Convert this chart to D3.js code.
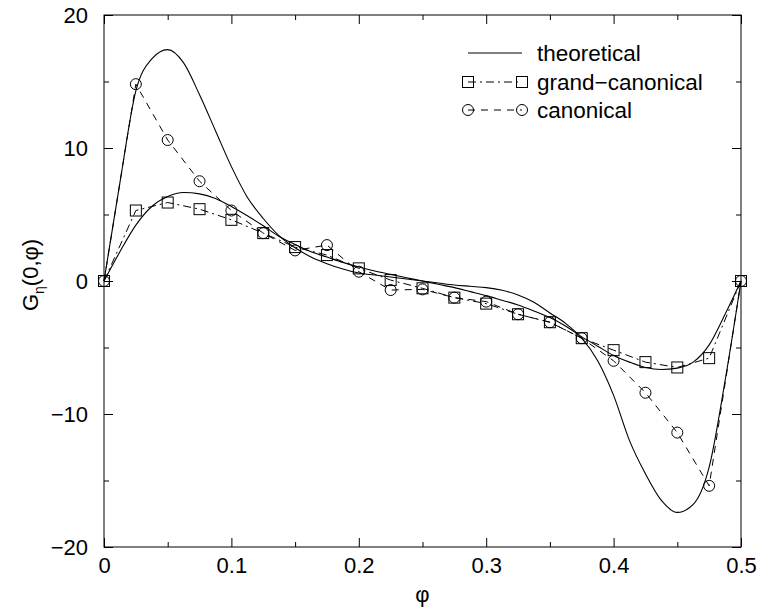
<!DOCTYPE html>
<html>
<head>
<meta charset="utf-8">
<script src="https://cdn.jsdelivr.net/npm/d3@7"></script>
<style>
  html, body { margin: 0; padding: 0; background: #fff; }
  text { font-family: "Liberation Sans", Arial, Helvetica, sans-serif; fill: #000; }
</style>
</head>
<body>
<svg id="chart" width="758" height="611"></svg>
<script>
// ---- data ----
const phiPts = [0, 0.025, 0.05, 0.075, 0.1, 0.125, 0.15, 0.175, 0.2, 0.225, 0.25,
                0.275, 0.3, 0.325, 0.35, 0.375, 0.4, 0.425, 0.45, 0.475, 0.5];
const grandCanonical = [0, 5.3, 5.9, 5.4, 4.6, 3.6, 2.55, 1.95, 0.95, 0.07, -0.55,
                        -1.25, -1.7, -2.5, -3.1, -4.3, -5.2, -6.1, -6.5, -5.8, 0];
const canonical = [0, 14.8, 10.6, 7.5, 5.3, 3.6, 2.3, 2.7, 0.7, -0.68, -0.63,
                   -1.25, -1.55, -2.5, -3.1, -4.3, -6.0, -8.4, -11.4, -15.4, 0];

const phiFine = [0, 0.0125, 0.025, 0.0375, 0.05, 0.0625, 0.075, 0.0875, 0.1, 0.1125,
                 0.125, 0.1375, 0.15, 0.1625, 0.175, 0.1875, 0.2, 0.2125, 0.225, 0.2375,
                 0.25, 0.2625, 0.275, 0.2875, 0.3, 0.3125, 0.325, 0.3375, 0.35, 0.3625,
                 0.375, 0.3875, 0.4, 0.4125, 0.425, 0.4375, 0.45, 0.4625, 0.475, 0.4875, 0.5];
const theoryLarge = [0, 7.4, 14.3, 16.7, 17.4, 16.4, 14.0, 11.3, 8.6, 6.3,
                     4.7, 3.4, 2.5, 1.8, 1.3, 0.9, 0.6, 0.45, 0.3, 0.15,
                     0, -0.15, -0.3, -0.4, -0.5, -0.7, -1.05, -1.6, -2.4, -3.2,
                     -4.3, -6.0, -8.6, -12.0, -14.5, -16.5, -17.4, -16.8, -14.0, -7.5, 0];
const theorySmall = [0, 2.2, 4.2, 5.6, 6.35, 6.65, 6.55, 6.2, 5.6, 4.9,
                     4.15, 3.35, 2.75, 2.2, 1.8, 1.4, 1.05, 0.75, 0.5, 0.25,
                     0, -0.25, -0.5, -0.8, -1.1, -1.45, -1.8, -2.25, -2.75, -3.4,
                     -4.2, -4.9, -5.6, -6.1, -6.5, -6.65, -6.55, -6.1, -4.8, -2.5, 0];

const xMajor = [0, 0.1, 0.2, 0.3, 0.4, 0.5];
const xMinor = [0.05, 0.15, 0.25, 0.35, 0.45];
const yMajor = [-20, -10, 0, 10, 20];
const yMinor = [-15, -5, 5, 15];
const legendLabels = ["theoretical", "grand\u2212canonical", "canonical"];

// ---- layout ----
const svg = d3.select("#chart");
const L = 104, R = 741, T = 15, B = 547;
const FS = 22;
const x = d3.scaleLinear().domain([0, 0.5]).range([L, R]);
const y = d3.scaleLinear().domain([-20, 20]).range([B, T]);

const fmtX = d => d === 0 ? "0" : d3.format(".1f")(d);
const fmtY = d => d < 0 ? "\u2212" + Math.abs(d) : String(d);

function axisGroup(axisFn, transform) {
  return svg.append("g").attr("transform", transform).call(axisFn)
    .call(g => g.select(".domain").remove())
    .call(g => g.selectAll("line").attr("stroke", "#000").attr("stroke-width", 1));
}
// bottom
axisGroup(d3.axisBottom(x).tickValues(xMajor).tickSize(-9).tickFormat(fmtX),
  `translate(0,${B})`)
  .selectAll("text").attr("font-size", FS).attr("dy", "0.71em").attr("y", 10);
axisGroup(d3.axisBottom(x).tickValues(xMinor).tickSize(-5).tickFormat(""), `translate(0,${B})`);
// top
axisGroup(d3.axisTop(x).tickValues(xMajor).tickSize(-9).tickFormat(""), `translate(0,${T})`);
axisGroup(d3.axisTop(x).tickValues(xMinor).tickSize(-5).tickFormat(""), `translate(0,${T})`);
// left
axisGroup(d3.axisLeft(y).tickValues(yMajor).tickSize(-9).tickPadding(16).tickFormat(fmtY),
  `translate(${L},0)`)
  .selectAll("text").attr("font-size", FS);
axisGroup(d3.axisLeft(y).tickValues(yMinor).tickSize(-5).tickFormat(""), `translate(${L},0)`);
// right
axisGroup(d3.axisRight(y).tickValues(yMajor).tickSize(-9).tickFormat(""), `translate(${R},0)`);
axisGroup(d3.axisRight(y).tickValues(yMinor).tickSize(-5).tickFormat(""), `translate(${R},0)`);

// frame
svg.append("rect").attr("x", L).attr("y", T).attr("width", R - L).attr("height", B - T)
  .attr("fill", "none").attr("stroke", "#000").attr("stroke-width", 1);

// axis titles
svg.append("text").attr("x", (L + R) / 2).attr("y", 602).attr("text-anchor", "middle")
  .attr("font-size", FS).text("\u03c6");
const yt = svg.append("text").attr("transform", "translate(38,275) rotate(-90)")
  .attr("text-anchor", "middle").attr("font-size", FS);
yt.append("tspan").text("G");
yt.append("tspan").attr("font-size", 14).attr("dy", 6).text("\u03b7");
yt.append("tspan").attr("dy", -6).text("(0,\u03c6)");

// ---- marks ----
const plot = svg.append("g");
const smooth = d3.line().x((d, i) => x(phiFine[i])).y(d => y(d)).curve(d3.curveMonotoneX);
[theoryLarge, theorySmall].forEach(arr => {
  plot.append("path").attr("d", smooth(arr)).attr("fill", "none")
    .attr("stroke", "#000").attr("stroke-width", 1.1);
});

const straight = d3.line().x((d, i) => x(phiPts[i])).y(d => y(d));
plot.append("path").attr("d", straight(grandCanonical)).attr("fill", "none")
  .attr("stroke", "#000").attr("stroke-width", 1).attr("stroke-dasharray", "8,4,2,4");
plot.append("path").attr("d", straight(canonical)).attr("fill", "none")
  .attr("stroke", "#000").attr("stroke-width", 1).attr("stroke-dasharray", "7,6");

const S = 11;
plot.selectAll("rect.gc").data(grandCanonical).join("rect").attr("class", "gc")
  .attr("x", (d, i) => x(phiPts[i]) - S / 2).attr("y", d => y(d) - S / 2)
  .attr("width", S).attr("height", S).attr("fill", "none").attr("stroke", "#000");
plot.selectAll("circle.cn").data(canonical).join("circle").attr("class", "cn")
  .attr("cx", (d, i) => x(phiPts[i])).attr("cy", d => y(d)).attr("r", 5.5)
  .attr("fill", "none").attr("stroke", "#000");

// ---- legend ----
const lx0 = 468, lx1 = 522, ltx = 537, ly = [53, 82, 110];
const lg = svg.append("g");
lg.append("line").attr("x1", lx0).attr("x2", lx1).attr("y1", ly[0]).attr("y2", ly[0])
  .attr("stroke", "#000").attr("stroke-width", 1.1);
lg.append("line").attr("x1", lx0).attr("x2", lx1).attr("y1", ly[1]).attr("y2", ly[1])
  .attr("stroke", "#000").attr("stroke-dasharray", "8,4,2,4");
lg.append("line").attr("x1", lx0).attr("x2", lx1).attr("y1", ly[2]).attr("y2", ly[2])
  .attr("stroke", "#000").attr("stroke-dasharray", "7,6");
[lx0, lx1].forEach(px => {
  lg.append("rect").attr("x", px - S / 2).attr("y", ly[1] - S / 2).attr("width", S).attr("height", S)
    .attr("fill", "none").attr("stroke", "#000");
  lg.append("circle").attr("cx", px).attr("cy", ly[2]).attr("r", 5.5)
    .attr("fill", "none").attr("stroke", "#000");
});
legendLabels.forEach((t, i) => {
  lg.append("text").attr("x", ltx).attr("y", ly[i]).attr("dy", "0.35em")
    .attr("font-size", 22.5).text(t);
});
</script>
</body>
</html>
